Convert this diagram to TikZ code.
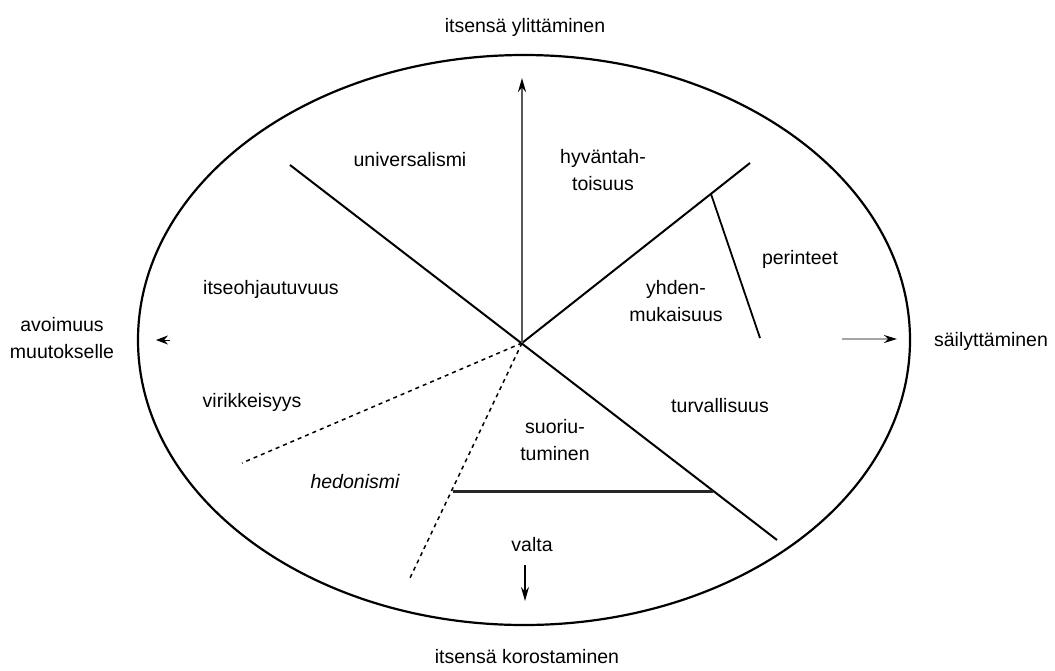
\documentclass[tikz,border=0pt]{standalone}
\usepackage{fontspec}
\setmainfont{Liberation Sans}
\usetikzlibrary{arrows.meta}

\begin{document}
\begin{tikzpicture}[x=1pt,y=-1pt,>={Stealth[length=13pt,width=7pt]},
    every node/.style={font=\fontsize{19.5}{27}\selectfont,align=center,inner sep=0pt},
    divider/.style={line width=2pt},
    halfdivider/.style={line width=1.5pt,dash pattern=on 4pt off 4pt}]
                \useasboundingbox (0,0) rectangle (1055,670);
                \draw [line width=2.2pt] (524,340) ellipse [x radius=386pt,y radius=285pt];
                % centre and ends of the dividers
                \coordinate (c) at (522,343);
                \coordinate (ul) at (290,165);
                \coordinate (lr) at (777,540);
                \coordinate (ur) at (750,163);
                \coordinate (pt) at (711,194);
                \coordinate (pb) at (760,338);
                \coordinate (dl) at (242,463);
                \coordinate (db) at (410,578);
                \coordinate (hl) at (453,491);
                \coordinate (hr) at (713,491);
                \coordinate (top) at (522,78);
                \coordinate (lt) at (170,340);
                \coordinate (lh) at (156,340);
                \coordinate (rt) at (842,339);
                \coordinate (rh) at (897,339);
                \coordinate (bt) at (525,565);
                \coordinate (bh) at (525,601);
                \draw [divider] (ul) -- (lr);
                \draw [divider] (c) -- (ur);
                \draw [line width=1.8pt] (pt) -- (pb);
                \draw [halfdivider] (c) -- (dl);
                \draw [halfdivider] (c) -- (db);
                \draw [line width=3pt,black!85] (hl) -- (hr);
                \draw [->,line width=2.2pt,black!65,>={Stealth[length=14pt,width=8pt,color=black]}] (c) -- (top);
                \draw [->,>={Stealth[length=12pt,width=9pt]},line width=1pt] (lt) -- (lh);
                \draw [->,line width=1.8pt,black!35,>={Stealth[length=13pt,width=8pt,color=black]}] (rt) -- (rh);
                \draw [->,line width=1.6pt,>={Stealth[length=14pt,width=8pt]}] (bt) -- (bh);
                % outer labels
                \node (ylit) at (525,27) {itsensä ylittäminen};
                \node (avoi) at (62,338) {avoimuus\\muutokselle};
                \node (sail) at (991,341) {säilyttäminen};
                \node (koro) at (527,657) {itsensä korostaminen};
                % values
                \node (univ) at (410,160) {universalismi};
                \node (hyva) at (603,170) {hyväntah-\\toisuus};
                \node (peri) at (800,259) {perinteet};
                \node (yhde) at (676,301) {yhden-\\mukaisuus};
                \node (itse) at (271,289) {itseohjautuvuus};
                \node (viri) at (252,402) {virikkeisyys};
                \node (turv) at (720,406) {turvallisuus};
                \node (suor) at (555,440) {suoriu-\\tuminen};
                \node (hedo) at (355,482) {\itshape hedonismi};
                \node (valt) at (532,545) {valta};
            \end{tikzpicture}
\end{document}
